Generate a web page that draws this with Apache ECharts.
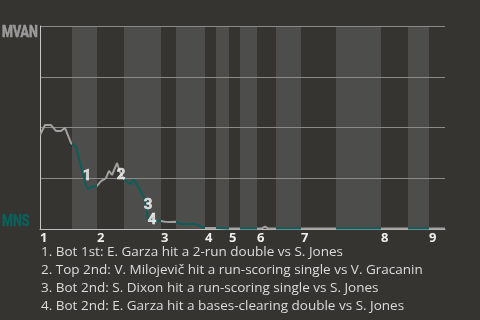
<!DOCTYPE html>
<html><head><meta charset="utf-8">
<script src="https://cdn.jsdelivr.net/npm/echarts@6/dist/echarts.min.js"></script>
<style>html,body{margin:0;padding:0;background:#353430;}#c{width:480px;height:320px;}</style>
</head><body><div id="c"></div>
<script>
// Innings (labels) and where each half-inning starts along the game progress axis
const innings = ['1','2','3','4','5','6','7','8','9'];
const topStarts = [0, 11.4, 24.2, 33, 37.8, 43.4, 52.2, 68.2, 77.8];
const botStarts = [6.4, 16.8, 27.2, 35.2, 40, 47.2, 59.2, 73.6];
const gameEnd = 81;

// Win probability for MVAN (%) along game progress
const progress = [0, 1, 2.2, 3.2, 4.2, 5, 6.2, 7.2, 9.2, 9.6, 10.8, 11.4, 12.2, 13.2, 13.8, 14.4, 15.4, 16, 16.8, 18, 18.8, 20, 21, 21.6, 22, 24.2, 25, 26, 27.2, 28, 31, 33, 35.2, 37.8, 44.4, 45, 45.6, 81];
const winProb  = [46.3, 51.2, 51.2, 48.3, 48.3, 49.8, 42.4, 40.4, 21.7, 19.7, 21.2, 21.2, 23.6, 25.1, 28.6, 26.6, 32.5, 28.1, 24.6, 22.2, 24.1, 19.2, 14.3, 5.4, 4.2, 3.9, 3.6, 3.4, 3.6, 2.5, 2.5, 0.5, 0.5, 0.3, 0.3, 1.2, 0.3, 0.2];

// Key events
const eventX = [9.4, 16.2, 21.6, 22.4];
const eventY = [26.1, 26.6, 11.8, 4.4];
const eventLabels = ['1', '2', '3', '4'];
const notes = [
  '1. Bot 1st: E. Garza hit a 2-run double vs S. Jones',
  '2. Top 2nd: V. Milojevič hit a run-scoring single vs V. Gracanin',
  '3. Bot 2nd: S. Dixon hit a run-scoring single vs S. Jones',
  '4. Bot 2nd: E. Garza hit a bases-clearing double vs S. Jones'
];
const teams = ['MVAN', 'MNS'];

const GRAY = '#a0a0a0', TEAL = '#0b5e59';
const pieces = [];
const bands = [];
for (let i = 0; i < topStarts.length; i++) {
  const tEnd = i < botStarts.length ? botStarts[i] : gameEnd;
  pieces.push({ gte: topStarts[i], lt: tEnd, color: GRAY });
  if (i < botStarts.length) {
    const bEnd = i + 1 < topStarts.length ? topStarts[i + 1] : gameEnd;
    pieces.push({ gte: botStarts[i], lt: bEnd, color: TEAL });
    bands.push([{ xAxis: botStarts[i] }, { xAxis: bEnd }]);
  }
}
pieces[pieces.length - 1].lte = gameEnd;

const chart = echarts.init(document.getElementById('c'), null, { renderer: 'canvas' });
const notesGraphics = notes.map((t, i) => ({
  type: 'text', left: 41, top: 245 + i * 18,
  style: { text: t, fill: '#dcdcdc', font: '13.5px "Open Sans"' }
}));
chart.setOption({
  backgroundColor: '#353430',
  animation: false,
  grid: { left: 40, right: 35, top: 26, bottom: 91 },
  xAxis: {
    type: 'value', min: 0, max: gameEnd, z: 3,
    splitLine: { show: false }, axisTick: { show: false },
    axisLine: { lineStyle: { color: '#bdbdbd', width: 1 } },
    axisLabel: {
      customValues: topStarts, align: 'left', margin: 3,
      color: '#eeeeee', fontFamily: 'Open Sans', fontWeight: 'bold', fontSize: 13,
      formatter: v => innings[topStarts.indexOf(v)]
    }
  },
  yAxis: {
    type: 'value', min: 0, max: 100, interval: 25, z: 3,
    axisLine: { show: true, lineStyle: { color: '#c8c8c8' } },
    axisTick: { show: false }, axisLabel: { show: false },
    splitLine: { lineStyle: { color: '#8a8a88', width: 1 } }
  },
  visualMap: { show: false, type: 'piecewise', dimension: 0, seriesIndex: 1, pieces: pieces },
  series: [
    {
      type: 'line', z: 0, data: [], silent: true,
      markArea: { silent: true, z: 0, itemStyle: { color: '#4d4d4b' }, data: bands }
    },
    {
      type: 'line', z: 4, symbol: 'none', silent: true,
      lineStyle: { width: 2 },
      data: progress.map((x, i) => [x, winProb[i]])
    },
    {
      type: 'scatter', z: 5, symbolSize: 1, itemStyle: { color: 'rgba(0,0,0,0)' }, silent: true,
      data: eventX.map((x, i) => [x, eventY[i], eventLabels[i]]),
      label: {
        show: true, position: 'inside', color: '#f4f4f4',
        fontFamily: 'Roboto', fontWeight: 'bold', fontSize: 15,
        textBorderColor: '#f4f4f4', textBorderWidth: 0.6,
        formatter: p => p.value[2]
      }
    }
  ],
  graphic: [
    { type: 'text', x: 2, y: 25, scaleX: 0.78, style: { text: teams[0], fill: '#9a9a9a', stroke: '#9a9a9a', lineWidth: 0.7, font: 'bold 16px Roboto' } },
    { type: 'text', x: 2, y: 214, scaleX: 0.78, style: { text: teams[1], fill: '#0c5f5a', stroke: '#0c5f5a', lineWidth: 0.7, font: 'bold 16px Roboto' } }
  ].concat(notesGraphics)
});
</script></body></html>
